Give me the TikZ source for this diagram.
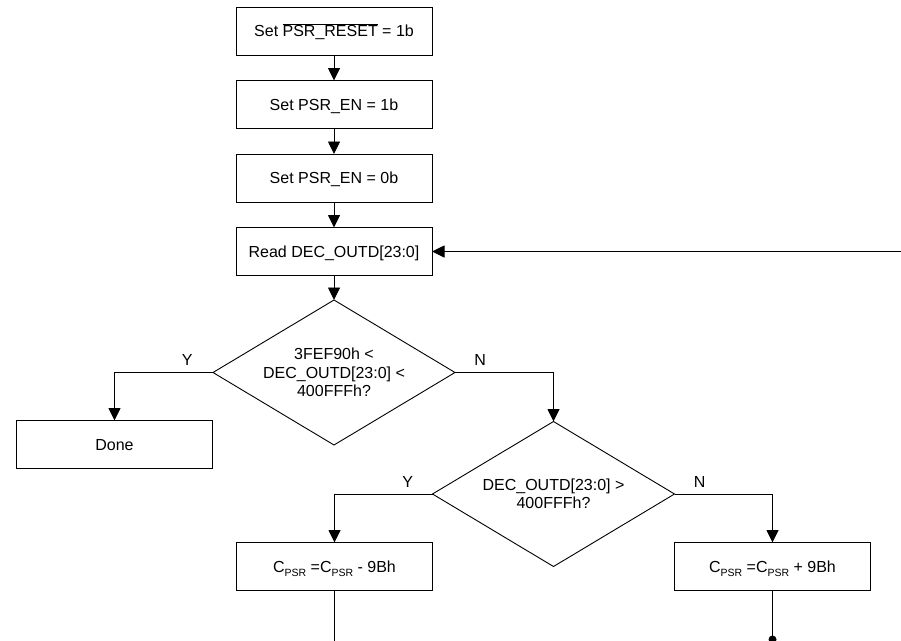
\documentclass[tikz,border=0pt]{standalone}
\usepackage{fontspec}
\setmainfont{Liberation Sans}
\usetikzlibrary{arrows.meta, shapes.geometric, positioning}
\tikzstyle{process} = [rectangle, minimum width=196pt, minimum height=48pt, text height=12pt, text depth=0.5pt, inner sep=0pt, outer sep=0pt, text centered, draw=black]
\tikzstyle{decision} = [diamond, aspect=1.67, minimum width=242pt, minimum height=145pt, inner sep=0pt, outer sep=0pt, align=center, draw=black]
\tikzstyle{answer} = [inner sep=0pt]
\tikzstyle{arrow} = [->]
\newcommand{\psrsub}{\raisebox{-4pt}{\fontsize{10.5}{12}\selectfont PSR}}

\begin{document}
\begin{tikzpicture}[x=1pt, y=-1pt, >={Triangle[length=12.5pt,width=12pt]}, line width=0.9pt, node distance=25.5pt, every node/.style={font=\fontsize{16}{18.5}\selectfont}]
	\useasboundingbox (0,0) rectangle (901,640);
	\node (start) [process] at (334,31) {Set $\overline{\mbox{PSR\_RESET}}$ = 1b};
	\node (setEnable) [process, below=of start] {Set PSR\_EN = 1b};
	\node (clearEnable) [process, below=of setEnable] {Set PSR\_EN = 0b};
	\node (readOutput) [process, below=of clearEnable] {Read DEC\_OUTD[23:0]};
	\node (inRange) [decision, below=24.5pt of readOutput]
		{3FEF90h <\\ DEC\_OUTD[23:0] <\\ 400FFFh?};
	\node (done) [process, below=48pt of inRange.west, xshift=-98.5pt] {Done};
	\node (overRange) [decision, below=49pt of inRange.east, xshift=98.5pt]
		{DEC\_OUTD[23:0] >\\ 400FFFh?};
	\node (decrease) [process, below=48.5pt of overRange.west, xshift=-98pt]
		{C\psrsub{} =C\psrsub{} - 9Bh};
	\node (increase) [process, below=48.5pt of overRange.east, xshift=98pt]
		{C\psrsub{} =C\psrsub{} + 9Bh};
	\coordinate [right=475pt of readOutput.east] (loopBack);
	\coordinate [below=60pt of decrease.south] (decreaseEnd);
	\coordinate [below=49pt of increase.south] (increaseDot);
	% answers
	\node (inYes) [answer, above left=6.5pt and 20pt of inRange.west] {Y};
	\node (inNo) [answer, above right=6.5pt and 19pt of inRange.east] {N};
	\node (overYes) [answer, above left=6.5pt and 19pt of overRange.west] {Y};
	\node (overNo) [answer, above right=6.5pt and 19pt of overRange.east] {N};
	% connectors
	\draw [arrow] (start) -- (setEnable);
	\draw [arrow] (setEnable) -- (clearEnable);
	\draw [arrow] (clearEnable) -- (readOutput);
	\draw [arrow] (readOutput) -- (inRange);
	\draw [arrow] (inRange.west) -| (done.north);
	\draw [arrow] (inRange.east) -| (overRange.north);
	\draw [arrow] (overRange.west) -| (decrease.north);
	\draw [arrow] (overRange.east) -| (increase.north);
	\draw [arrow] (loopBack) -- (readOutput.east);
	\draw (decrease) -- (decreaseEnd);
	\draw (increase) -- (increaseDot);
	\fill (increaseDot) circle (4pt);
\end{tikzpicture}
\end{document}
